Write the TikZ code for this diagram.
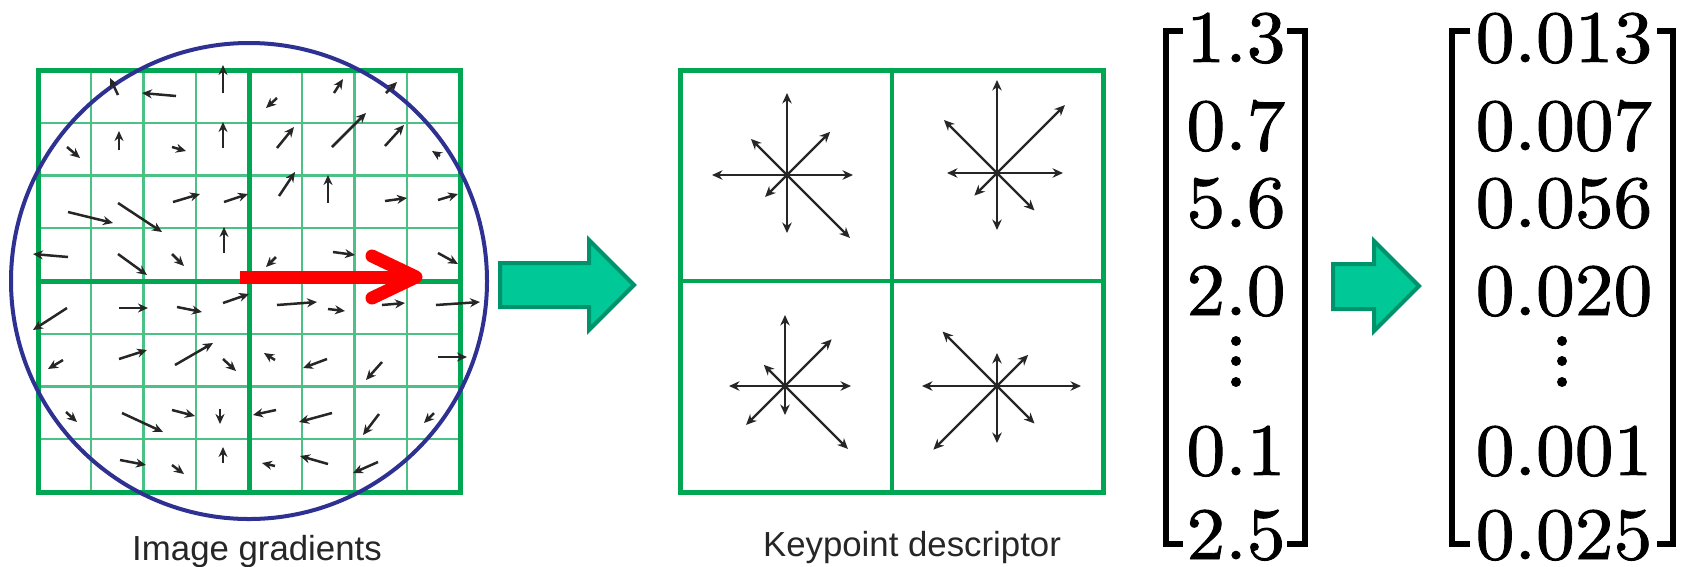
\documentclass[tikz,border=0pt]{standalone}
\usepackage{fontspec}
\newfontfamily\capfont{Liberation Sans}
\newfontfamily\numfont{lmroman10-regular}[Extension=.otf,FakeBold=1.2,FakeStretch=1.05]
\usepackage{tikz}
\usetikzlibrary{arrows.meta}
\definecolor{gridgreen}{HTML}{00A651}
\definecolor{ringblue}{HTML}{2E3192}
\definecolor{blockfill}{HTML}{00C896}
\definecolor{blockedge}{HTML}{00936B}
\definecolor{ink}{HTML}{262626}

\begin{document}
\begin{tikzpicture}[x=0.2mm,y=-0.2mm,>=Stealth,
  thickgrid/.style={draw=gridgreen,line width=1mm},
  thingrid/.style={draw=gridgreen!70,line width=0.45mm},
  grad/.style={->,ink,line width=0.5mm,>={Stealth[length=2mm,width=1.8mm]}},
  ray/.style={->,ink,line width=0.48mm,>={Stealth[length=2.1mm,width=1.9mm]}},
  block/.style={fill=blockfill,draw=blockedge,line width=0.8mm},
  lbl/.style={font=\capfont\fontsize{19.8}{22}\selectfont,text=ink,anchor=base,inner sep=0pt},
  num/.style={font=\numfont\fontsize{42}{44}\selectfont,anchor=base,inner sep=0pt},
  brk/.style={line width=1.3mm}]
\useasboundingbox (0,0) rectangle (1687,566);

% image gradients
\foreach \i in {1,2,3,5,6,7} {
  \draw[thingrid] ({38+52.75*\i},70) -- ({38+52.75*\i},492);
  \draw[thingrid] (38,{70+52.75*\i}) -- (460,{70+52.75*\i});
}
\draw[thickgrid] (38,70) rectangle (460,492);
\draw[thickgrid] (249,70) -- (249,492) (38,281) -- (460,281);
\draw[ringblue,line width=0.8mm] (249,281) circle[radius=238];
\foreach \a/\b/\c/\d in {118/95/110/78, 176/96/142/93, 223/93/223/65, 277/98/266/108, 334/93/343/79, 386/93/397/82,
  67/147/80/158, 119/150/119/131, 172/147/186/151, 223/148/223/122, 277/148/294/127, 332/147/366/113, 385/146/404/125, 440/156/432/151,
  68/212/113/223, 118/203/162/232, 173/202/200/194, 224/202/248/194, 279/196/295/172, 328/203/328/175, 385/201/407/198, 438/200/458/194,
  68/257/33/254, 118/254/147/275, 172/254/184/266, 224/253/224/227, 276/257/266/267, 333/252/355/255, 438/253/458/264,
  67/308/33/330, 119/308/148/308, 177/307/202/312, 223/303/249/294, 277/305/317/302, 328/309/345/311, 382/305/405/303, 436/305/480/302,
  63/360/48/369, 119/359/147/350, 175/365/213/343, 223/359/236/371, 275/360/264/353, 327/359/303/368, 382/362/366/380, 438/357/467/357,
  66/412/77/422, 122/413/163/432, 172/410/195/416, 220/409/220/424, 276/410/253/415, 332/413/299/422, 379/414/363/435, 434/413/424/423,
  120/460/146/465, 172/465/184/474, 223/463/223/447, 275/466/262/463, 328/464/300/456, 378/462/353/473}
  \draw[grad] (\a,\b) -- (\c,\d);
\coordinate (kp) at (240,277); \coordinate (ori) at (416,277);
\draw[red,line width=2.6mm] (kp) -- (ori);
\draw[red,line width=2.6mm,line cap=round,line join=round] (ori) ++(-44,-21) -- (ori) -- ++(-44,21);
\node[lbl] (imglbl) at (257,560) {Image gradients};

\draw[block] (500,263) -- (589,263) -- (589,240) -- (634,285) -- (589,330) -- (589,307) -- (500,307) -- cycle;

% keypoint descriptor
\draw[thickgrid,line width=0.8mm] (892,70) -- (892,492) (680,281) -- (1103,281);
\draw[thickgrid] (680,70) rectangle (1103,492);
\coordinate (tl) at (787,175); \coordinate (tr) at (997,173);
\coordinate (bl) at (785,386); \coordinate (br) at (997,386);
\foreach \a/\r in {0/66,45/89,90/58,135/31,180/75,225/51,270/82,315/61} \draw[ray] (tl) -- ++(\a:\r);
\foreach \a/\r in {0/66,45/53,90/57,135/32,180/50,225/75,270/93,315/96} \draw[ray] (tr) -- ++(\a:\r);
\foreach \a/\r in {0/66,45/89,90/29,135/55,180/56,225/30,270/71,315/66} \draw[ray] (bl) -- ++(\a:\r);
\foreach \a/\r in {0/84,45/53,90/57,135/90,180/75,225/77,270/33,315/44} \draw[ray] (br) -- ++(\a:\r);
\foreach \c in {tl,tr,bl,br} \fill[ink] (\c) circle[radius=3.5];
\node[lbl] (desclbl) at (912,556) {Keypoint descriptor};

% vectors
\draw[brk] (1183,31) -- (1166,31) -- (1166,544) -- (1183,544);
\draw[brk] (1287,31) -- (1305,31) -- (1305,544) -- (1287,544);
\foreach \v/\y [count=\k] in {1.3/62,0.7/150,5.6/227,2.0/315,0.1/475,2.5/559}
  \node[num] (raw\k) at (1236,\y) {\v};
\draw[block] (1333,264) -- (1374,264) -- (1374,241) -- (1419,286) -- (1374,331) -- (1374,309) -- (1333,309) -- cycle;
\draw[brk] (1470,31) -- (1452,31) -- (1452,544) -- (1470,544);
\draw[brk] (1657,31) -- (1673,31) -- (1673,544) -- (1657,544);
\foreach \v/\y [count=\k] in {0.013/62,0.007/150,0.056/227,0.020/315,0.001/475,0.025/559}
  \node[num] (nrm\k) at (1564,\y) {\v};
\foreach \y in {341,361,382} { \fill (1236,\y) circle[radius=5]; \fill (1562,\y) circle[radius=5]; }
\end{tikzpicture}
\end{document}
